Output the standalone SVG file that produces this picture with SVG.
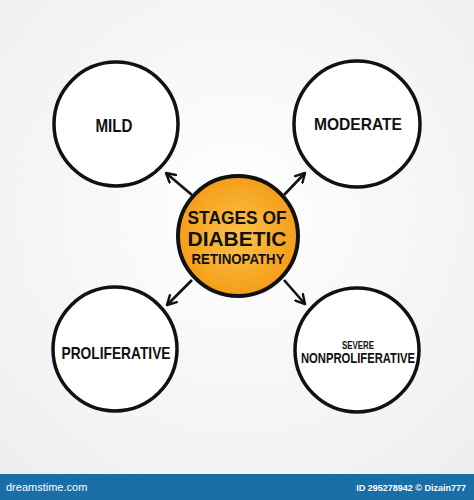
<svg xmlns="http://www.w3.org/2000/svg" width="474" height="500" viewBox="0 0 474 500">
<defs>
<radialGradient id="bg" cx="50%" cy="45%" r="70%">
<stop offset="0" stop-color="#ffffff"/>
<stop offset="1" stop-color="#efefef"/>
</radialGradient>
<radialGradient id="og" cx="50%" cy="50%" r="55%">
<stop offset="0" stop-color="#fcc24a"/>
<stop offset="1" stop-color="#f49a14"/>
</radialGradient>
<marker id="ah" viewBox="0 0 12 12" refX="10" refY="6" markerWidth="12" markerHeight="12" markerUnits="userSpaceOnUse" orient="auto">
<polyline points="1,1 10,6 1,11" fill="none" stroke="#111" stroke-width="2.4" stroke-linecap="round" stroke-linejoin="round"/>
</marker>
<style>
.ring{fill:#fff;stroke:#111;stroke-width:3.5}
.lbl{font-family:"Liberation Sans",Arial,sans-serif;font-weight:bold;fill:#111;text-anchor:middle}
.conn{stroke:#111;stroke-width:2.6;fill:none;marker-end:url(#ah)}
</style>
</defs>
<rect width="474" height="474" fill="url(#bg)"/>
<g id="connectors">
<line class="conn" x1="192" y1="195" x2="166" y2="173"/>
<line class="conn" x1="284" y1="195" x2="305" y2="173"/>
<line class="conn" x1="192" y1="280" x2="167" y2="305"/>
<line class="conn" x1="284" y1="280" x2="305" y2="304"/>
</g>
<g id="mild">
<circle class="ring" cx="116" cy="124" r="62"/>
<text class="lbl" x="114" y="132" font-size="18" textLength="37" lengthAdjust="spacingAndGlyphs">MILD</text>
</g>
<g id="moderate">
<circle class="ring" cx="357" cy="124" r="63"/>
<text class="lbl" x="358" y="130" font-size="17" textLength="88" lengthAdjust="spacingAndGlyphs">MODERATE</text>
</g>
<g id="proliferative">
<circle class="ring" cx="115" cy="349" r="62"/>
<text class="lbl" x="116" y="359" font-size="17" textLength="109" lengthAdjust="spacingAndGlyphs">PROLIFERATIVE</text>
</g>
<g id="severe">
<circle class="ring" cx="357" cy="350" r="62"/>
<text class="lbl" x="358" y="349" font-size="11" textLength="32" lengthAdjust="spacingAndGlyphs">SEVERE</text>
<text class="lbl" x="358" y="363" font-size="14" textLength="114" lengthAdjust="spacingAndGlyphs">NONPROLIFERATIVE</text>
</g>
<g id="center">
<circle cx="238" cy="236" r="60" fill="url(#og)" stroke="#111" stroke-width="4"/>
<text class="lbl" x="237" y="224" font-size="18" textLength="99" lengthAdjust="spacingAndGlyphs">STAGES OF</text>
<text class="lbl" x="237" y="246" font-size="20" textLength="99" lengthAdjust="spacingAndGlyphs">DIABETIC</text>
<text class="lbl" x="238" y="264" font-size="14" textLength="93" lengthAdjust="spacingAndGlyphs">RETINOPATHY</text>
</g>
<g id="footer">
<rect x="0" y="474" width="474" height="26" fill="#1a6ea8"/>
<text x="6" y="491" font-family="'Liberation Sans',Arial,sans-serif" font-size="11" fill="#fff">dreamstime.com</text>
<text x="466" y="491" font-family="'Liberation Sans',Arial,sans-serif" font-size="9" font-weight="bold" fill="#fff" text-anchor="end">ID 295278942 © Dizain777</text>
</g>
</svg>
